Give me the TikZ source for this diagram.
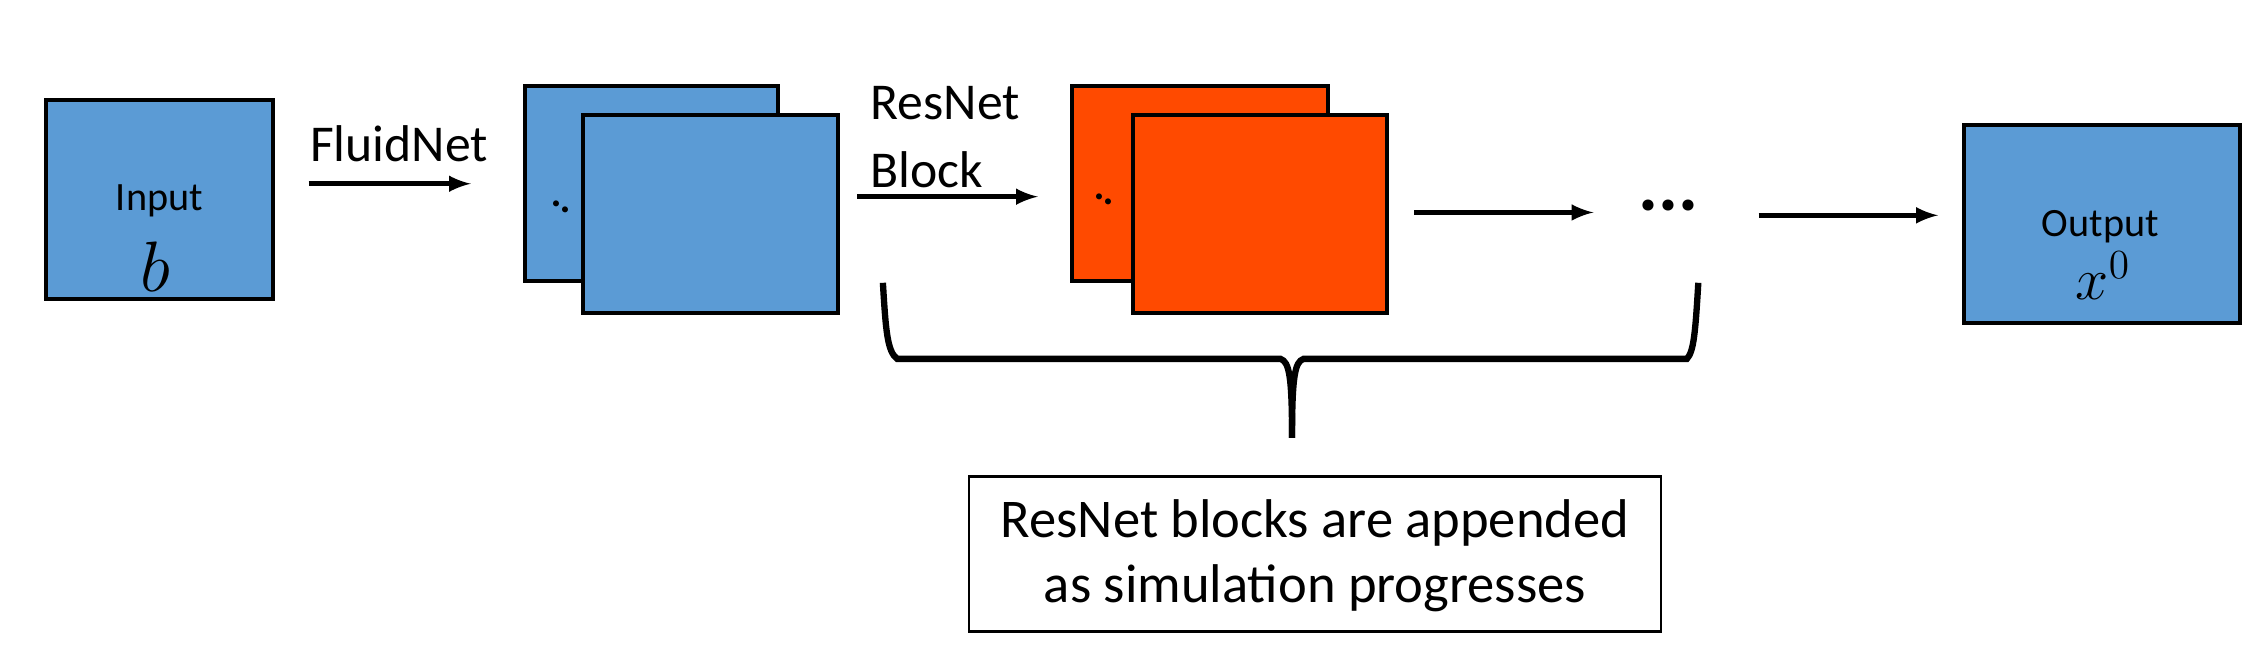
\documentclass[tikz,border=0pt]{standalone}
\usepackage{fontspec}
\setmainfont{Carlito}
\begin{document}
\begin{tikzpicture}[x=0.5pt,y=-0.5pt,
 box/.style={draw=black,line width=1.4pt},
 blu/.style={box,fill={rgb,255:red,91;green,155;blue,213}},
 org/.style={box,fill={rgb,255:red,255;green,74;blue,0}},
 arr/.style={-latex,line width=1.6pt},
 lbl/.style={font=\fontsize{18}{20}\selectfont,inner sep=0pt}]
\useasboundingbox (0,0) rectangle (1568,454);
\draw[blu] (32,70) rectangle (190,208);
\node[lbl,font=\fontsize{14}{16}\selectfont] (in) at (111,140) {Input};
\node[inner sep=0pt] (b) at (108,186) {\fontsize{26}{28}\selectfont$b$};
\draw[blu] (366,60) rectangle (542,196);
\draw[blu] (406,80) rectangle (584,218);
\node[inner sep=0pt,font=\fontsize{14}{16}\selectfont\bfseries,rotate=-30] (d1) at (391,144) {..};
\node[lbl] (fn) at (278,100) {FluidNet};
\coordinate (a1s) at (215,128); \coordinate (a1e) at (328,128);
\draw[arr] (a1s) -- (a1e);
\node[lbl,anchor=west] (rn) at (606,72) {ResNet};
\node[lbl,anchor=west] (bl) at (606,118) {Block};
\coordinate (a2s) at (597,137); \coordinate (a2e) at (723,137);
\draw[arr] (a2s) -- (a2e);
\draw[org] (747,60) rectangle (925,196);
\draw[org] (789,80) rectangle (966,218);
\node[inner sep=0pt,font=\fontsize{14}{16}\selectfont\bfseries,rotate=-30] (d2) at (769,139) {..};
\coordinate (a3s) at (985,148); \coordinate (a3e) at (1110,148);
\draw[arr] (a3s) -- (a3e);
\node[inner sep=0pt,font=\fontsize{26}{28}\selectfont\bfseries] (dots) at (1162,143) {...};
\coordinate (a4s) at (1225,150); \coordinate (a4e) at (1350,150);
\draw[arr] (a4s) -- (a4e);
\draw[blu] (1368,87) rectangle (1560,225);
\node[lbl,font=\fontsize{14}{16}\selectfont] (out) at (1463,158) {Output};
\node[inner sep=0pt] (x0) at (1465,192) {\fontsize{20}{22}\selectfont$x^0$};
\draw[line width=2.2pt] (615,197) .. controls (617,230) and (618,245) .. (625,250) -- (892,250) .. controls (898,252) and (900,262) .. (900,305);
\draw[line width=2.2pt] (1183,197) .. controls (1181,230) and (1180,245) .. (1175,250) -- (908,250) .. controls (902,252) and (900,262) .. (900,305);
\draw[draw=black,line width=1pt] (675,332) rectangle (1157,440);
\node[lbl,font=\fontsize{19}{21}\selectfont] (t1) at (916,364) {ResNet blocks are appended};
\node[lbl,font=\fontsize{19}{21}\selectfont] (t2) at (916,410) {as simulation progresses};
\end{tikzpicture}
\end{document}
